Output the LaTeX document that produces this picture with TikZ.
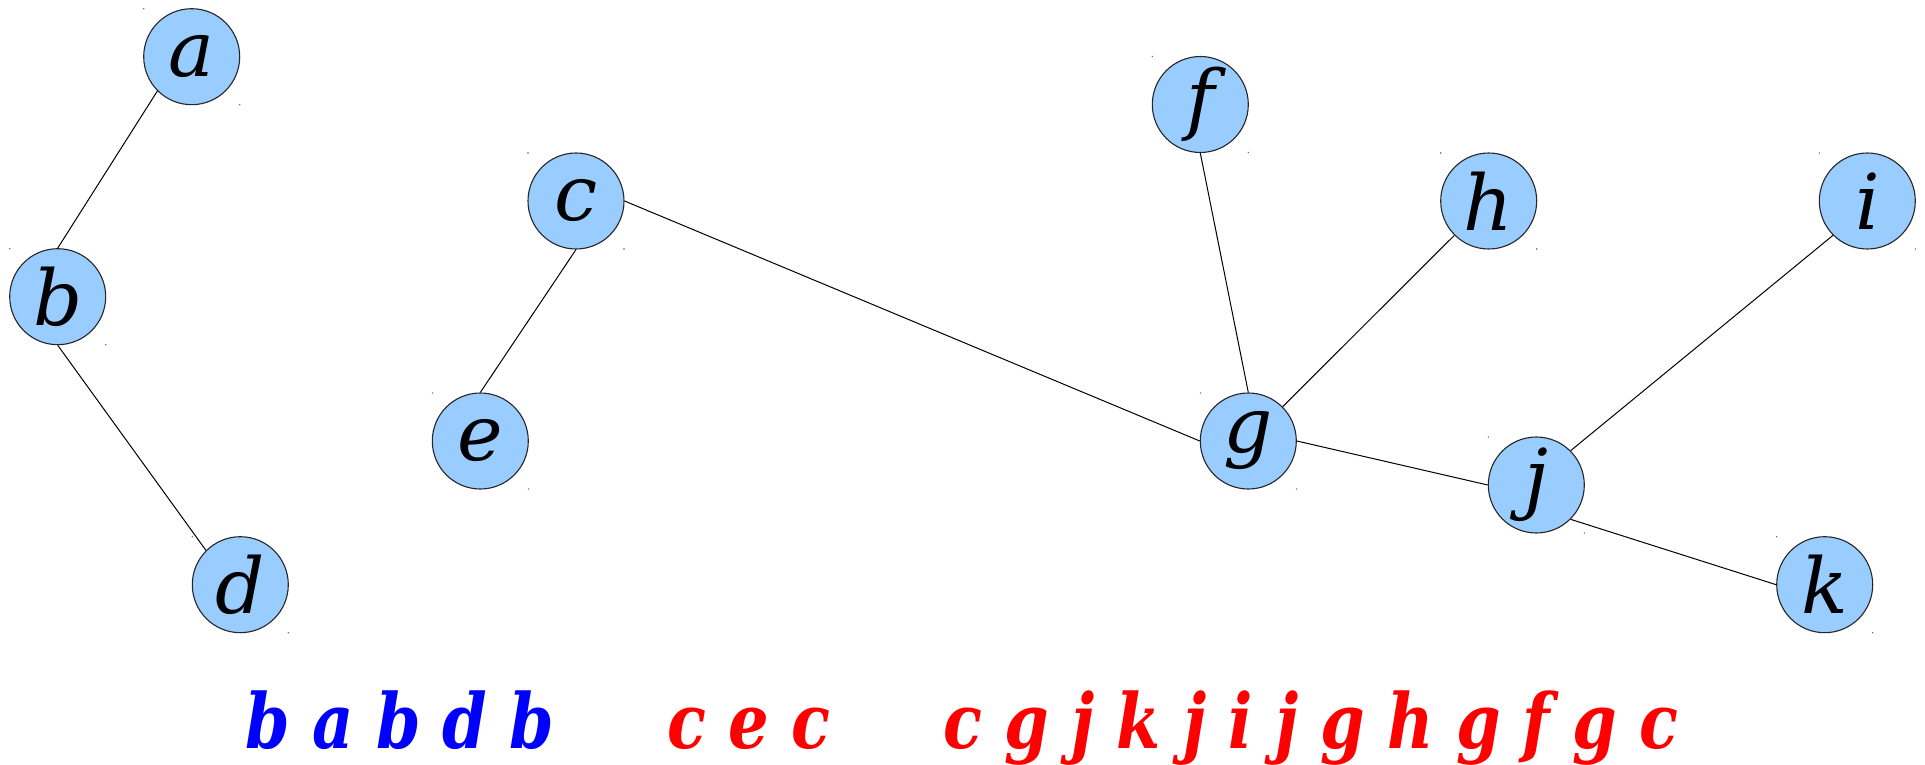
\documentclass[tikz,border=0pt]{standalone}
\usepackage{fontspec}
\setmainfont{DejaVu Serif}
\newfontfamily\seqfont{DejaVu Serif}[FakeStretch=0.84]
\definecolor{nodeblue}{HTML}{99CCFF}
\definecolor{seqblue}{HTML}{0000FF}
\definecolor{seqred}{HTML}{FF0000}
\tikzset{
  vtx/.style={circle, draw=black!85, line width=1.1pt, fill=nodeblue, minimum size=96pt, inner sep=0pt,
    font=\fontsize{77}{80}\selectfont\itshape},
  edge/.style={draw=black, line width=1pt},
  seq/.style={anchor=base, inner sep=0pt, font=\fontsize{76}{78}\selectfont\seqfont\bfseries\itshape},
  tinydot/.style={fill=black!60}
}
\begin{document}
\begin{tikzpicture}[x=1pt,y=-1pt]
\useasboundingbox (0,0) rectangle (1925,765);
\node[vtx] (a) at (191.7,56.7) {a};
\node[vtx] (b) at (57.7,296.7) {b};
\node[vtx] (d) at (240.3,584.7) {d};
\node[vtx] (c) at (576,201) {c};
\node[vtx] (e) at (480.3,441) {e};
\node[vtx] (f) at (1200.3,104.5) {f};
\node[vtx] (h) at (1488.7,201) {h};
\node[vtx] (i) at (1867.3,201) {i};
\node[vtx] (g) at (1248.3,441) {g};
\node[vtx] (j) at (1536.3,485) {j};
\node[vtx] (k) at (1824.7,584.7) {k};
\foreach \n in {a,b,c,d,e,f,g,h,i,j,k}{
  \fill[tinydot] ([shift={(-48,-48)}]\n.center) circle (0.8);
  \fill[tinydot] ([shift={(48,48)}]\n.center) circle (0.8);
}
\draw[edge] (a.225) -- (b.90);
\draw[edge] (b.270) -- (d.135);
\draw[edge] (c.270) -- (e.90);
\draw[edge] (c.0) -- (g.180);
\draw[edge] (f.270) -- (g.90);
\draw[edge] (h.225) -- (g.45);
\draw[edge] (g.0) -- (j.180);
\draw[edge] (i.225) -- (j.45);
\draw[edge] (j.315) -- (k.180);
\node[seq, text=seqblue] (s1) at (400,748) {b a b d b};
\node[seq, text=seqred] (s2) at (749,748) {c e c};
\node[seq, text=seqred] (s3) at (1311,748) {c g j k j i j g h g f g c};
\end{tikzpicture}
\end{document}
